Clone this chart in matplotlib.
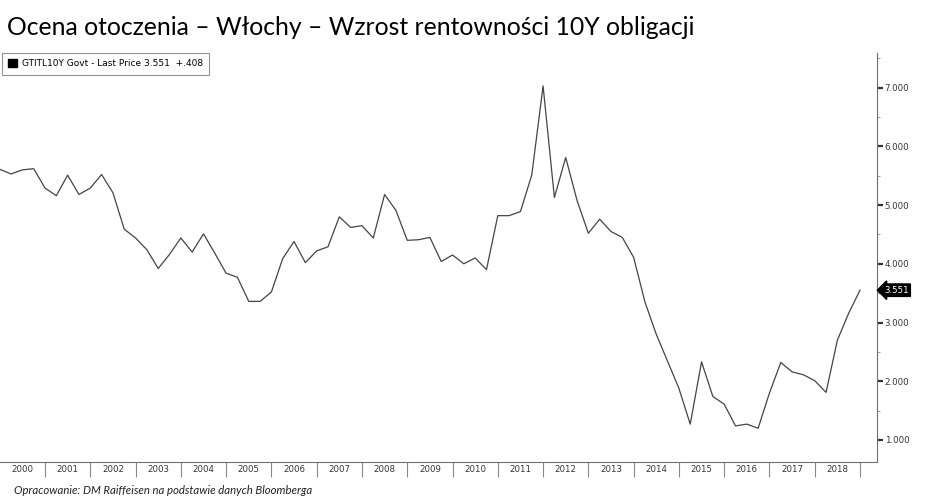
import numpy as np
import matplotlib
matplotlib.use('Agg')
import matplotlib.pyplot as plt
import matplotlib.transforms as mtransforms
from matplotlib.patches import Patch
from matplotlib.ticker import FixedLocator, FuncFormatter, NullFormatter

# dane kwartalne: rentowność 10Y obligacji Włoch (odczyt z wykresu)
start_year = 2000
yields = [5.61, 5.53, 5.60, 5.62, 5.29, 5.16, 5.51, 5.18, 5.29, 5.52,
          5.21, 4.59, 4.44, 4.24, 3.92, 4.16, 4.44, 4.20, 4.51, 4.18,
          3.84, 3.77, 3.36, 3.36, 3.52, 4.09, 4.38, 4.02, 4.22, 4.29,
          4.80, 4.62, 4.65, 4.44, 5.18, 4.91, 4.40, 4.41, 4.45, 4.04,
          4.15, 4.00, 4.10, 3.90, 4.82, 4.82, 4.89, 5.51, 7.03, 5.13,
          5.81, 5.08, 4.52, 4.76, 4.55, 4.45, 4.11, 3.35, 2.80, 2.34,
          1.88, 1.27, 2.33, 1.74, 1.61, 1.24, 1.27, 1.20, 1.80, 2.32,
          2.16, 2.11, 2.01, 1.81, 2.70, 3.16, 3.551]
years = list(range(2000, 2019))
last_price = 3.551
change = '+.408'

title = 'Ocena otoczenia – Włochy – Wzrost rentowności 10Y obligacji'
source = 'Opracowanie: DM Raiffeisen na podstawie danych Bloomberga'

x = start_year + np.arange(len(yields)) * 0.25

W, H = 948, 497
fig = plt.figure(figsize=(W / 100, H / 100), dpi=100)
ax = fig.add_axes([0 / W, (H - 462) / H, 877 / W, (462 - 53) / H])

ax.plot(x, yields, color='#444444', lw=0.9)

ax.set_xlim(2000.006, 2019.375)
ax.set_ylim(0.625, 7.59)

# osie
for s in ['left', 'top']:
    ax.spines[s].set_visible(False)
ax.spines['right'].set_color('#6e6e6e')
ax.spines['bottom'].set_color('#6e6e6e')

ax.yaxis.tick_right()
ax.yaxis.set_major_locator(FixedLocator(range(1, 8)))
ax.yaxis.set_minor_locator(FixedLocator(np.arange(1.5, 8, 1.0)))
ax.yaxis.set_major_formatter(FuncFormatter(lambda v, p: f'{v:.3f}'))
ax.tick_params(axis='y', which='major', direction='out', length=4, width=1.6,
               color='#333333', labelsize=6.2, labelcolor='#333333', pad=1.5)
ax.tick_params(axis='y', which='minor', direction='out', length=2, width=0.6,
               color='#888888')

# lata: separatory jako ticki, podpisy pośrodku
ax.xaxis.set_major_locator(FixedLocator([y + 1 for y in years]))
ax.xaxis.set_major_formatter(NullFormatter())
ax.xaxis.set_minor_locator(FixedLocator([y + 0.5 for y in years]))
ax.xaxis.set_minor_formatter(FuncFormatter(lambda v, p: str(int(v))))
ax.tick_params(axis='x', which='major', direction='out', length=11, width=0.8,
               color='#888888')
ax.tick_params(axis='x', which='minor', length=0, labelsize=6.2,
               labelcolor='#333333', pad=2)

# etykieta ostatniej wartości
trans = mtransforms.blended_transform_factory(ax.transAxes, ax.transData)
ax.text(1.008, last_price, f'{last_price:.3f}', transform=trans, color='white',
        fontsize=6.2, va='center', ha='left',
        bbox=dict(boxstyle='larrow,pad=0.2', fc='black', ec='black'))

# legenda
leg = ax.legend(handles=[Patch(color='black',
                               label=f'GTITL10Y Govt - Last Price {last_price:.3f}  {change}')],
                loc='upper left', bbox_to_anchor=(0.002, 1.0), borderaxespad=0,
                fontsize=6.5, frameon=True, fancybox=False, edgecolor='#777777',
                handlelength=1.0, handleheight=1.0, handletextpad=0.5,
                borderpad=0.7)
leg.get_frame().set_linewidth(0.8)

fig.text(7 / W, 1 - 35 / H, title, fontsize=17.8, family='Lato',
         va='baseline', ha='left', color='black')
fig.text(14 / W, 1 - 491 / H, source, fontsize=8.2, family='Lato',
         style='italic', va='center', ha='left', color='#222222')

fig.savefig('out.png', dpi=100)
